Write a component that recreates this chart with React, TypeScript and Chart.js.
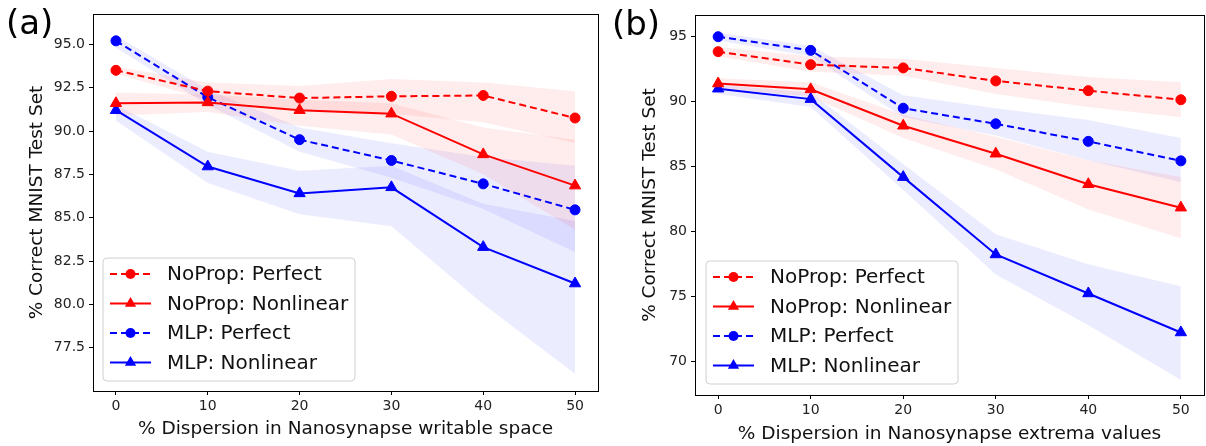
import { useEffect, useRef } from "react";
import { Chart, registerables } from "chart.js";

Chart.register(...registerables);

// ---------- data ----------
const xValues = [0, 10, 20, 30, 40, 50];
const xTicks = [0, 10, 20, 30, 40, 50];
const yTicksA = [77.5, 80, 82.5, 85, 87.5, 90, 92.5, 95];
const yTicksB = [70, 75, 80, 85, 90, 95];

const seriesLabels = ["NoProp: Perfect", "NoProp: Nonlinear", "MLP: Perfect", "MLP: Nonlinear"];

// Panel (a): writable space
const aNoPropPerfect = [93.5, 92.3, 91.9, 92.0, 92.05, 90.75];
const aNoPropPerfectHi = [93.7, 92.8, 92.6, 93.0, 92.8, 92.3];
const aNoPropPerfectLo = [93.3, 91.8, 91.2, 91.0, 90.5, 89.3];
const aNoPropNonlinear = [91.6, 91.65, 91.2, 91.0, 88.65, 86.85];
const aNoPropNonlinearHi = [92.2, 92.1, 91.8, 91.6, 90.2, 89.5];
const aNoPropNonlinearLo = [90.9, 91.1, 90.3, 89.8, 87.5, 84.3];
const aMlpPerfect = [95.2, 91.95, 89.5, 88.3, 86.95, 85.45];
const aMlpPerfectHi = [95.5, 92.4, 90.2, 89.3, 88.5, 88.0];
const aMlpPerfectLo = [94.8, 91.5, 88.8, 87.3, 85.5, 83.0];
const aMlpNonlinear = [91.2, 87.95, 86.4, 86.75, 83.3, 81.2];
const aMlpNonlinearHi = [91.5, 88.8, 87.7, 88.0, 85.8, 84.8];
const aMlpNonlinearLo = [90.6, 87.0, 85.2, 84.5, 80.0, 76.0];

// Panel (b): extrema values
const bNoPropPerfect = [93.85, 92.85, 92.6, 91.6, 90.85, 90.15];
const bNoPropPerfectHi = [94.2, 93.5, 93.3, 92.6, 91.9, 91.5];
const bNoPropPerfectLo = [93.5, 92.3, 92.0, 90.6, 89.6, 88.8];
const bNoPropNonlinear = [91.4, 90.95, 88.15, 86.0, 83.65, 81.85];
const bNoPropNonlinearHi = [91.8, 91.5, 89.0, 87.3, 85.5, 84.2];
const bNoPropNonlinearLo = [91.0, 90.4, 87.2, 84.8, 81.7, 79.5];
const bMlpPerfect = [95.0, 93.95, 89.5, 88.3, 86.95, 85.45];
const bMlpPerfectHi = [95.3, 94.3, 90.5, 89.5, 88.6, 87.2];
const bMlpPerfectLo = [94.7, 93.5, 88.8, 87.4, 85.5, 83.8];
const bMlpNonlinear = [91.0, 90.2, 84.2, 78.25, 75.25, 72.25];
const bMlpNonlinearHi = [91.3, 90.7, 85.2, 79.8, 77.5, 75.8];
const bMlpNonlinearLo = [90.6, 89.6, 83.2, 76.7, 72.8, 68.6];

// ---------- styles ----------
const FONT = "'DejaVu Sans', 'Liberation Sans', sans-serif";
const RED = "#ff0000";
const BLUE = "#0000ff";
const RED_BAND = "rgba(255,0,0,0.075)";
const BLUE_BAND = "rgba(0,0,255,0.075)";

type SeriesDef = {
  label: string;
  values: number[];
  hi: number[];
  lo: number[];
  color: string;
  band: string;
  dashed: boolean;
  marker: "circle" | "triangle";
};

const toPts = (vals: number[]) => xValues.map((x, i) => ({ x, y: vals[i] }));

function buildDatasets(series: SeriesDef[]) {
  const ds: any[] = [];
  series.forEach((s) => {
    ds.push({
      label: s.label + " hi",
      data: toPts(s.hi),
      borderWidth: 0,
      borderColor: "rgba(0,0,0,0)",
      pointRadius: 0,
      fill: false,
      order: 10,
    });
    ds.push({
      label: s.label + " lo",
      data: toPts(s.lo),
      borderWidth: 0,
      borderColor: "rgba(0,0,0,0)",
      backgroundColor: s.band,
      pointRadius: 0,
      fill: "-1",
      order: 10,
    });
  });
  series.forEach((s) => {
    ds.push({
      label: s.label,
      data: toPts(s.values),
      borderColor: s.color,
      backgroundColor: s.color,
      borderWidth: 2,
      borderDash: s.dashed ? [7, 4] : [],
      pointStyle: s.marker,
      pointRadius: s.marker === "circle" ? 5 : 6.5,
      pointBorderWidth: 1,
      pointBackgroundColor: s.color,
      pointBorderColor: s.color,
      fill: false,
      tension: 0,
      order: 0,
    });
  });
  return ds;
}

const decorPlugin = {
  id: "decor",
  afterDraw(chart: any, _args: any, opts: any) {
    const ctx = chart.ctx;
    const ca = chart.chartArea;
    ctx.save();
    // box
    ctx.strokeStyle = "#000";
    ctx.lineWidth = 1;
    ctx.strokeRect(Math.round(ca.left) + 0.5, Math.round(ca.top) + 0.5, Math.round(ca.right - ca.left), Math.round(ca.bottom - ca.top));

    // panel label
    ctx.fillStyle = "#000";
    ctx.font = `34px ${FONT}`;
    ctx.textAlign = "left";
    ctx.textBaseline = "alphabetic";
    ctx.fillText(opts.panel, opts.panelX, opts.panelY);

    // axis titles
    ctx.font = `18.5px ${FONT}`;
    ctx.textAlign = "center";
    ctx.textBaseline = "middle";
    ctx.fillStyle = "#111";
    ctx.fillText(opts.xTitle, (ca.left + ca.right) / 2, opts.xTitleY);
    ctx.save();
    ctx.translate(opts.yTitleX, (ca.top + ca.bottom) / 2);
    ctx.rotate(-Math.PI / 2);
    ctx.fillText(opts.yTitle, 0, 0);
    ctx.restore();

    // legend
    const lx = ca.left + opts.legendDx;
    const lw = opts.legendW;
    const lh = opts.legendH;
    const ly = ca.bottom - opts.legendDy - lh;
    ctx.fillStyle = "rgba(255,255,255,0.85)";
    ctx.strokeStyle = "#d0d0d0";
    ctx.lineWidth = 1;
    const r = 4;
    ctx.beginPath();
    ctx.moveTo(lx + r, ly);
    ctx.lineTo(lx + lw - r, ly);
    ctx.arcTo(lx + lw, ly, lx + lw, ly + r, r);
    ctx.lineTo(lx + lw, ly + lh - r);
    ctx.arcTo(lx + lw, ly + lh, lx + lw - r, ly + lh, r);
    ctx.lineTo(lx + r, ly + lh);
    ctx.arcTo(lx, ly + lh, lx, ly + lh - r, r);
    ctx.lineTo(lx, ly + r);
    ctx.arcTo(lx, ly, lx + r, ly, r);
    ctx.closePath();
    ctx.fill();
    ctx.stroke();

    const items: SeriesDef[] = opts.items;
    items.forEach((s, i) => {
      const cy = ly + 16 + i * 29.5;
      const x0 = lx + 7;
      const x1 = lx + 48;
      const mx = (x0 + x1) / 2;
      ctx.strokeStyle = s.color;
      ctx.fillStyle = s.color;
      ctx.lineWidth = 2;
      ctx.setLineDash(s.dashed ? [7, 4] : []);
      ctx.beginPath();
      ctx.moveTo(x0, cy);
      ctx.lineTo(x1, cy);
      ctx.stroke();
      ctx.setLineDash([]);
      ctx.beginPath();
      if (s.marker === "circle") {
        ctx.arc(mx, cy, 5, 0, Math.PI * 2);
      } else {
        const rr = 6.5;
        ctx.moveTo(mx, cy - rr);
        ctx.lineTo(mx + rr * Math.sin((2 * Math.PI) / 3), cy - rr * Math.cos((2 * Math.PI) / 3));
        ctx.lineTo(mx - rr * Math.sin((2 * Math.PI) / 3), cy - rr * Math.cos((2 * Math.PI) / 3));
        ctx.closePath();
      }
      ctx.fill();
      ctx.fillStyle = "#111";
      ctx.font = `20px ${FONT}`;
      ctx.textAlign = "left";
      ctx.textBaseline = "middle";
      ctx.fillText(s.label, lx + 64, cy + 1);
    });
    ctx.restore();
  },
};

type PanelProps = {
  series: SeriesDef[];
  yTicks: number[];
  yMin: number;
  yMax: number;
  decimals: number;
  width: number;
  yAxisWidth: number;
  xAxisHeight: number;
  padTop: number;
  padRight: number;
  decor: any;
};

function Panel(p: PanelProps) {
  const ref = useRef<HTMLCanvasElement | null>(null);
  useEffect(() => {
    if (!ref.current) return;
    const chart = new Chart(ref.current, {
      type: "line",
      data: { datasets: buildDatasets(p.series) },
      plugins: [decorPlugin],
      options: {
        animation: false,
        responsive: false,
        devicePixelRatio: 1,
        layout: { autoPadding: false, padding: { top: p.padTop, right: p.padRight, left: 0, bottom: 0 } },
        plugins: {
          legend: { display: false },
          tooltip: { enabled: false },
          decor: p.decor,
        } as any,
        scales: {
          x: {
            type: "linear",
            min: -2.5,
            max: 52.5,
            afterBuildTicks: (s: any) => {
              s.ticks = xTicks.map((v) => ({ value: v }));
            },
            afterFit: (s: any) => {
              s.height = p.xAxisHeight;
              s.paddingLeft = 0;
              s.paddingRight = 0;
            },
            grid: { drawOnChartArea: false, drawTicks: true, tickLength: 4, color: "#000" },
            border: { display: true, color: "#000", width: 1 },
            ticks: {
              font: { family: FONT, size: 14 },
              color: "#222",
              padding: 3,
              maxRotation: 0,
              callback: (v: any) => String(v),
            },
          },
          y: {
            type: "linear",
            min: p.yMin,
            max: p.yMax,
            afterBuildTicks: (s: any) => {
              s.ticks = p.yTicks.map((v) => ({ value: v }));
            },
            afterFit: (s: any) => {
              s.width = p.yAxisWidth;
              s.paddingTop = 0;
              s.paddingBottom = 0;
            },
            grid: { drawOnChartArea: false, drawTicks: true, tickLength: 4, color: "#000" },
            border: { display: true, color: "#000", width: 1 },
            ticks: {
              font: { family: FONT, size: 14 },
              color: "#222",
              padding: 4,
              callback: (v: any) => Number(v).toFixed(p.decimals),
            },
          },
        },
      } as any,
    });
    return () => chart.destroy();
  }, []);
  return <canvas ref={ref} width={p.width} height={446} style={{ display: "block" }} />;
}

const seriesA: SeriesDef[] = [
  { label: seriesLabels[0], values: aNoPropPerfect, hi: aNoPropPerfectHi, lo: aNoPropPerfectLo, color: RED, band: RED_BAND, dashed: true, marker: "circle" },
  { label: seriesLabels[1], values: aNoPropNonlinear, hi: aNoPropNonlinearHi, lo: aNoPropNonlinearLo, color: RED, band: RED_BAND, dashed: false, marker: "triangle" },
  { label: seriesLabels[2], values: aMlpPerfect, hi: aMlpPerfectHi, lo: aMlpPerfectLo, color: BLUE, band: BLUE_BAND, dashed: true, marker: "circle" },
  { label: seriesLabels[3], values: aMlpNonlinear, hi: aMlpNonlinearHi, lo: aMlpNonlinearLo, color: BLUE, band: BLUE_BAND, dashed: false, marker: "triangle" },
];

const seriesB: SeriesDef[] = [
  { label: seriesLabels[0], values: bNoPropPerfect, hi: bNoPropPerfectHi, lo: bNoPropPerfectLo, color: RED, band: RED_BAND, dashed: true, marker: "circle" },
  { label: seriesLabels[1], values: bNoPropNonlinear, hi: bNoPropNonlinearHi, lo: bNoPropNonlinearLo, color: RED, band: RED_BAND, dashed: false, marker: "triangle" },
  { label: seriesLabels[2], values: bMlpPerfect, hi: bMlpPerfectHi, lo: bMlpPerfectLo, color: BLUE, band: BLUE_BAND, dashed: true, marker: "circle" },
  { label: seriesLabels[3], values: bMlpNonlinear, hi: bMlpNonlinearHi, lo: bMlpNonlinearLo, color: BLUE, band: BLUE_BAND, dashed: false, marker: "triangle" },
];

export default function App() {
  return (
    <div style={{ position: "fixed", left: 0, top: 0, width: 1206, height: 446, background: "#fff", overflow: "hidden" }}>
      <div style={{ position: "absolute", left: 0, top: 0 }}>
        <Panel
          series={seriesA}
          yTicks={yTicksA}
          yMin={75.0}
          yMax={96.75}
          decimals={1}
          width={600}
          yAxisWidth={93}
          xAxisHeight={55}
          padTop={14}
          padRight={2}
          decor={{
            panel: "(a)",
            panelX: 6,
            panelY: 34,
            xTitle: "% Dispersion in Nanosynapse writable space",
            xTitleY: 429,
            yTitle: "% Correct MNIST Test Set",
            yTitleX: 37,
            legendDx: 10,
            legendDy: 10,
            legendW: 252,
            legendH: 123,
            items: seriesA,
          }}
        />
      </div>
      <div style={{ position: "absolute", left: 600, top: 0 }}>
        <Panel
          series={seriesB}
          yTicks={yTicksB}
          yMin={67.44}
          yMax={96.67}
          decimals={0}
          width={606}
          yAxisWidth={95}
          xAxisHeight={51}
          padTop={15}
          padRight={2}
          decor={{
            panel: "(b)",
            panelX: 12,
            panelY: 35,
            xTitle: "% Dispersion in Nanosynapse extrema values",
            xTitleY: 434,
            yTitle: "% Correct MNIST Test Set",
            yTitleX: 50,
            legendDx: 11,
            legendDy: 11,
            legendW: 252,
            legendH: 123,
            items: seriesB,
          }}
        />
      </div>
    </div>
  );
}
